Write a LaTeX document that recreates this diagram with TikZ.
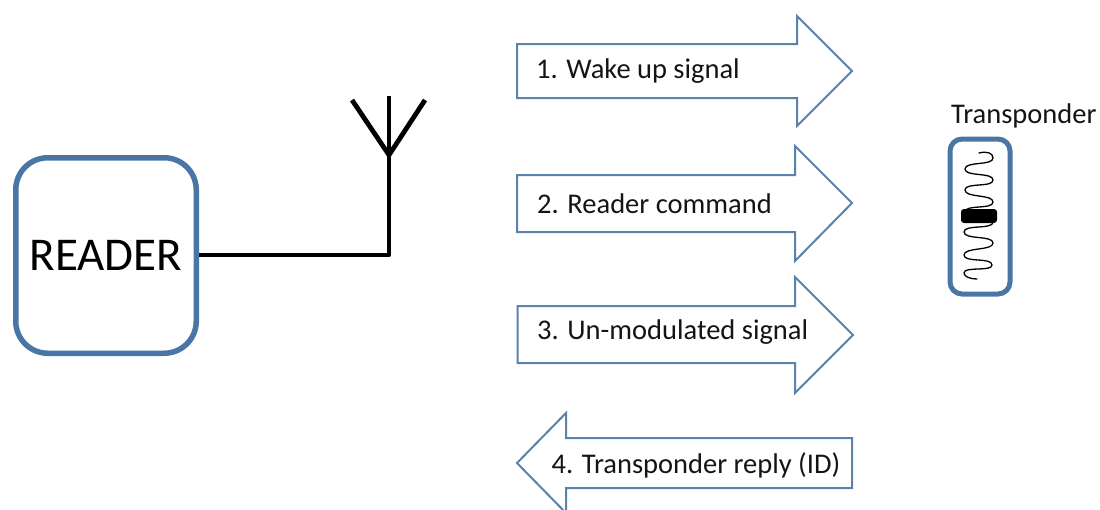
\documentclass[tikz,border=0pt]{standalone}
\usepackage{fontspec}
\setmainfont{Carlito}
\definecolor{boxblue}{HTML}{4A76A6}
\definecolor{arrowblue}{HTML}{5A82AB}
\definecolor{ink}{HTML}{141414}
\tikzset{
  flowarrow/.style={draw=arrowblue,line width=2pt,fill=white,line join=miter},
  arrowlabel/.style={anchor=base west,inner sep=0pt,text=ink,font=\fontsize{28.5}{30}\selectfont},
  wire/.style={draw=black,line width=4.8pt},
}
\begin{document}
\begin{tikzpicture}[x=1pt,y=-1pt]
\useasboundingbox (0,0) rectangle (1100,509);
\clip (0,0) rectangle (1100,509);
% reader
\node[draw=boxblue,line width=5.5pt,rounded corners=32pt,minimum width=180.5pt,minimum height=195.5pt,inner sep=0pt,
  font=\fontsize{47}{50}\selectfont,text=black] (reader) at (106,255.5) {READER};
% antenna
\coordinate (corner) at (389,255);
\coordinate (fork) at (389,155);
\coordinate (tiptop) at (389,96);
\coordinate (tipl) at (352,100);
\coordinate (tipr) at (425,100);
\draw[wire,line join=round] (reader.east |- corner) -- (corner) -- (tiptop);
\draw[wire] (tipl) -- (fork) -- (tipr);
% arrows
\draw[flowarrow] (517,44) -- (797,44) -- (797,16) -- (852,71) -- (797,126) -- (797,98) -- (517,98) -- cycle;
\draw[flowarrow] (517,175) -- (795,175) -- (795,146) -- (852,203) -- (795,261) -- (795,232) -- (517,232) -- cycle;
\draw[flowarrow] (517.5,306) -- (795,306) -- (795,277) -- (853,335) -- (795,393) -- (795,363) -- (517.5,363) -- cycle;
\draw[flowarrow] (852,438) -- (566,438) -- (566,413) -- (517,463) -- (566,513) -- (566,488) -- (852,488) -- cycle;
\node[arrowlabel] (l1) at (536,78) {1. Wake up signal};
\node[arrowlabel] (l2) at (537,213) {2. Reader command};
\node[arrowlabel] (l3) at (537,339) {3. Un-modulated signal};
\node[arrowlabel] (l4) at (551.5,473) {4. Transponder reply (ID)};
% transponder
\node[arrowlabel] (tlabel) at (951,123) {Transponder};
\node[draw=boxblue,line width=5pt,rounded corners=12pt,minimum width=60pt,minimum height=155pt,inner sep=0pt] (tbox) at (980,216.5) {};
\draw[black,line width=1.3pt,line cap=round]
 (979,153) .. controls (987,151) and (993,153) .. (993,158)
 .. controls (993,166) and (965,161) .. (965,169)
 .. controls (965,177) and (993,172) .. (993,180)
 .. controls (993,188) and (965,182) .. (965,190)
 .. controls (965,198) and (993,194) .. (993,202)
 .. controls (993,210) and (965,204) .. (965,212)
 .. controls (965,220) and (993,214) .. (993,222)
 .. controls (993,230) and (964,224) .. (964,232)
 .. controls (964,240) and (993,235) .. (993,243)
 .. controls (993,251) and (964,247) .. (964,255)
 .. controls (964,263) and (992,257) .. (992,265)
 .. controls (992,272) and (964,266) .. (964,273)
 .. controls (964,277) and (971,279) .. (977,279);
\node[fill=black,rounded corners=3pt,minimum width=36pt,minimum height=14pt,inner sep=0pt] (chip) at (979,216) {};
\end{tikzpicture}
\end{document}
